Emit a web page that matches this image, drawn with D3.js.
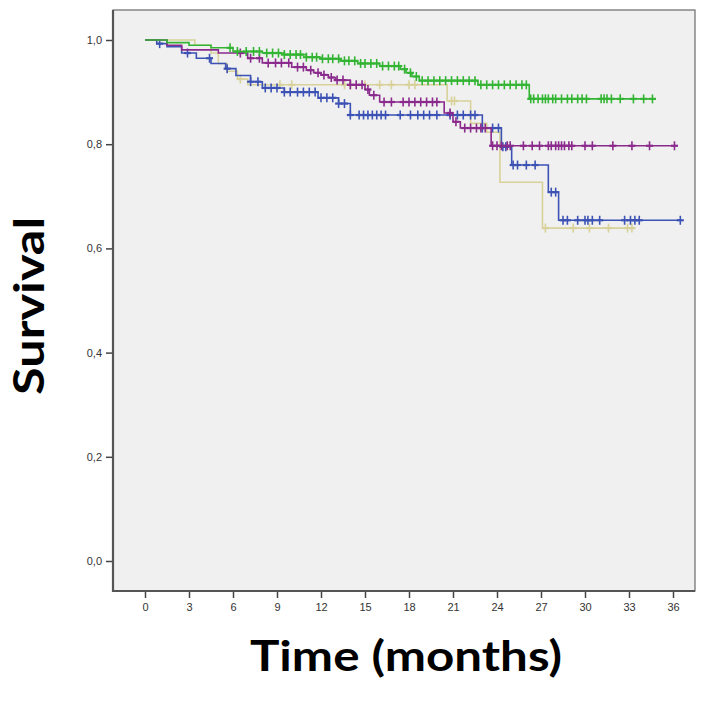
<!DOCTYPE html>
<html>
<head>
<meta charset="utf-8">
<script src="https://cdn.jsdelivr.net/npm/d3@7"></script>
<style>
  html, body { margin: 0; padding: 0; background: #ffffff; }
  svg { display: block; }
</style>
</head>
<body>
<svg id="chart" width="709" height="711"></svg>
<script>
// ---------------- DATA ----------------
const xTicks = [0, 3, 6, 9, 12, 15, 18, 21, 24, 27, 30, 33, 36];
const yTicks = [0, 0.2, 0.4, 0.6, 0.8, 1.0];
const xTitle = "Time (months)";
const yTitle = "Survival";

// step points [time, survival] and end of follow-up
const tanSteps = [[0,1],[3.4,0.99],[4.5,0.975],[5.0,0.955],[5.6,0.94],[6.3,0.925],[7.0,0.914],[20.6,0.883],[22.2,0.84],[23.3,0.823],[24.2,0.727],[27.1,0.639]];
const tanEnd = 33.2;
const tanCensor = [6.5, 9.2, 10.0, 13.6, 14.0, 15.0, 16.0, 16.8, 18.0, 18.4, 20.9, 21.1, 27.3, 29.2, 30.3, 31.6, 32.9, 33.2];

const blueSteps = [[0,1],[0.8,0.993],[1.5,0.987],[2.5,0.975],[3.5,0.965],[4.5,0.955],[5.5,0.945],[6.2,0.932],[7.2,0.92],[8.0,0.908],[9.5,0.9],[11.8,0.889],[13.2,0.878],[14.0,0.856],[23.0,0.831],[24.3,0.795],[25.0,0.76],[27.5,0.708],[28.2,0.654]];
const blueEnd = 36.5;
const blueCensor = [1.0, 2.9, 4.4, 5.6, 7.2, 7.7, 8.2, 8.6, 9.0, 9.5, 9.9, 10.4, 10.8, 11.2, 11.6, 12.0, 12.4, 12.8, 13.2, 13.6, 14.0, 14.6, 14.9, 15.2, 15.5, 15.8, 16.1, 16.4, 17.4, 18.1, 18.6, 19.0, 19.4, 19.9, 20.8, 21.3, 21.7, 22.2, 22.5, 23.0, 23.7, 24.1, 24.4, 24.6, 25.1, 25.4, 26.0, 26.6, 27.7, 28.0, 28.5, 28.8, 29.5, 30.0, 30.2, 30.5, 31.0, 32.7, 33.1, 33.4, 33.7, 36.5];

const purpleSteps = [[0,1],[1.5,0.99],[2.5,0.981],[5.0,0.975],[7.0,0.965],[8.0,0.956],[10.0,0.948],[11.0,0.942],[11.5,0.937],[12.0,0.933],[12.5,0.928],[13.0,0.923],[14.0,0.914],[15.0,0.905],[15.3,0.894],[16.0,0.881],[20.4,0.86],[21.0,0.843],[21.5,0.831],[23.6,0.797]];
const purpleEnd = 36.1;
const purpleCensor = [6.5, 7.2, 7.8, 8.4, 8.9, 9.3, 9.8, 10.4, 10.8, 11.3, 11.8, 12.2, 12.7, 13.1, 13.5, 14.0, 14.4, 14.8, 15.2, 15.6, 16.3, 16.8, 17.6, 18.0, 18.4, 18.8, 19.2, 19.6, 19.9, 20.8, 21.2, 21.8, 22.2, 22.6, 22.9, 23.2, 23.7, 24.0, 24.3, 24.7, 24.9, 25.8, 26.4, 26.9, 27.5, 27.7, 28.0, 28.2, 28.4, 28.6, 28.9, 29.1, 30.0, 30.5, 31.9, 33.2, 34.4, 36.1];

const greenSteps = [[0,1],[1.5,0.995],[3.0,0.99],[4.5,0.985],[6.0,0.978],[8.0,0.975],[9.5,0.972],[11.0,0.967],[12.0,0.964],[13.3,0.96],[14.5,0.955],[16.0,0.95],[17.4,0.944],[17.8,0.937],[18.2,0.93],[18.7,0.922],[22.7,0.914],[26.2,0.887]];
const greenEnd = 34.6;
const greenCensor = [5.8, 6.3, 6.9, 7.4, 7.8, 8.3, 8.7, 9.1, 9.5, 9.9, 10.3, 10.6, 11.0, 11.4, 11.7, 12.1, 12.5, 12.8, 13.2, 13.6, 13.9, 14.3, 14.7, 15.0, 15.4, 15.8, 16.2, 16.6, 17.0, 17.3, 17.7, 18.1, 18.5, 18.9, 19.3, 19.7, 20.1, 20.5, 20.9, 21.3, 21.7, 22.1, 22.5, 22.9, 23.3, 23.7, 24.1, 24.5, 24.9, 25.3, 25.7, 26.0, 26.3, 26.5, 26.8, 27.1, 27.3, 27.5, 27.8, 28.0, 28.4, 28.8, 29.1, 29.5, 29.8, 30.1, 31.1, 31.3, 31.5, 31.8, 32.4, 33.3, 34.0, 34.6];

const seriesColors = ["#d8d29a", "#3c52b4", "#8a2a8c", "#33b433"];

// ---------------- CHART ----------------
const svg = d3.select("#chart");
const frame = { left: 113, top: 10, right: 695, bottom: 591 };

const x = d3.scaleLinear().domain([0, 36]).range([145, 673]);
const y = d3.scaleLinear().domain([0, 1]).range([561, 40]);

// plot background
svg.append("rect")
  .attr("x", frame.left).attr("y", frame.top)
  .attr("width", frame.right - frame.left).attr("height", frame.bottom - frame.top)
  .attr("fill", "#f0f0f0").attr("stroke", "#6a6a6a").attr("stroke-width", 1.2);

// axes
const xAxis = d3.axisBottom(x).tickValues(xTicks).tickSize(7).tickSizeOuter(0).tickFormat(d3.format("d"));
const yAxis = d3.axisLeft(y).tickValues(yTicks).tickSize(7).tickSizeOuter(0).tickFormat(d => d3.format(".1f")(d).replace(".", ","));

const gx = svg.append("g").attr("transform", `translate(0,${frame.bottom})`).call(xAxis);
const gy = svg.append("g").attr("transform", `translate(${frame.left},0)`).call(yAxis);
[gx, gy].forEach(g => {
  g.select(".domain").remove();
  g.selectAll(".tick line").attr("stroke", "#444").attr("stroke-width", 1.5);
  g.selectAll(".tick text").attr("fill", "#333").attr("font-family", "Liberation Sans, Arial, sans-serif").attr("font-size", 11);
});
gx.selectAll(".tick text").attr("dy", "0.9em");
gy.selectAll(".tick text").attr("dx", "-1px");

// heavier left and bottom axis lines
svg.append("line").attr("x1", frame.left).attr("x2", frame.left).attr("y1", frame.top).attr("y2", frame.bottom + 1)
  .attr("stroke", "#555").attr("stroke-width", 2.2);
svg.append("line").attr("x1", frame.left - 1).attr("x2", frame.right).attr("y1", frame.bottom).attr("y2", frame.bottom)
  .attr("stroke", "#555").attr("stroke-width", 2.2);

// curves
function survAt(steps, t) {
  let s = steps[0][1];
  for (const [tt, ss] of steps) { if (tt <= t + 1e-9) s = ss; }
  return s;
}
const line = d3.line().x(d => x(d[0])).y(d => y(d[1])).curve(d3.curveStepAfter);

const series = [
  { steps: tanSteps, end: tanEnd, censor: tanCensor, color: seriesColors[0] },
  { steps: blueSteps, end: blueEnd, censor: blueCensor, color: seriesColors[1] },
  { steps: purpleSteps, end: purpleEnd, censor: purpleCensor, color: seriesColors[2] },
  { steps: greenSteps, end: greenEnd, censor: greenCensor, color: seriesColors[3] }
];

series.forEach(s => {
  const pts = s.steps.concat([[s.end, s.steps[s.steps.length - 1][1]]]);
  const g = svg.append("g");
  g.append("path").datum(pts).attr("d", line)
    .attr("fill", "none").attr("stroke", s.color).attr("stroke-width", 1.6);
  g.selectAll("line.c").data(s.censor).enter().append("line")
    .attr("x1", d => x(d)).attr("x2", d => x(d))
    .attr("y1", d => y(survAt(s.steps, d)) - 4.5)
    .attr("y2", d => y(survAt(s.steps, d)) + 4.5)
    .attr("stroke", s.color).attr("stroke-width", 1.6);
  g.selectAll("line.h").data(s.censor).enter().append("line")
    .attr("x1", d => x(d) - 3.5).attr("x2", d => x(d) + 3.5)
    .attr("y1", d => y(survAt(s.steps, d)))
    .attr("y2", d => y(survAt(s.steps, d)))
    .attr("stroke", s.color).attr("stroke-width", 2.2);
});

// titles
svg.append("text").attr("x", 406).attr("y", 671)
  .attr("text-anchor", "middle")
  .attr("font-family", "Lato, 'Open Sans', sans-serif").attr("font-weight", "bold")
  .attr("font-size", 42).attr("fill", "#000")
  .attr("textLength", 312).attr("lengthAdjust", "spacingAndGlyphs")
  .text(xTitle);

svg.append("text").attr("transform", "translate(44,306) rotate(-90)")
  .attr("text-anchor", "middle")
  .attr("font-family", "Lato, 'Open Sans', sans-serif").attr("font-weight", "bold")
  .attr("font-size", 42).attr("fill", "#000")
  .attr("textLength", 178).attr("lengthAdjust", "spacingAndGlyphs")
  .text(yTitle);
</script>
</body>
</html>
